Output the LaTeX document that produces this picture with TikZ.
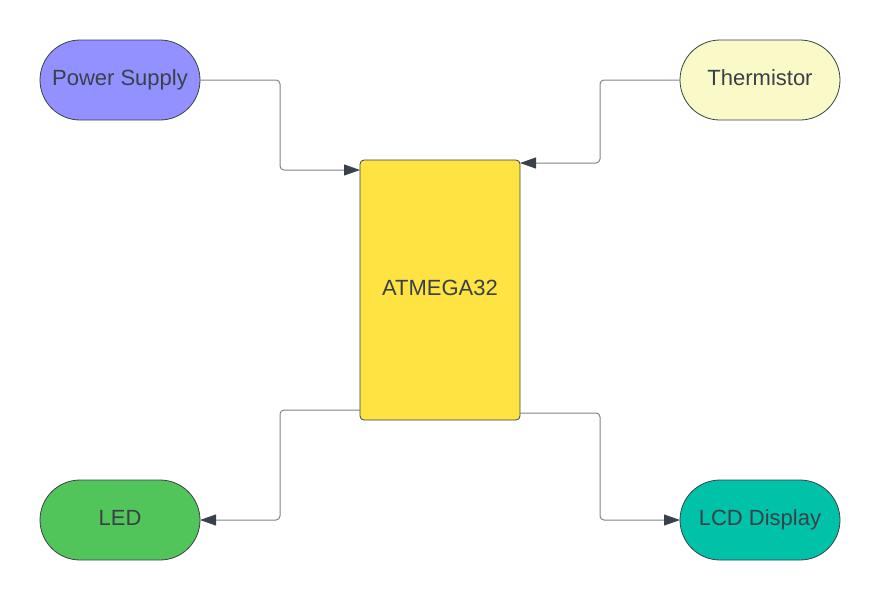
\documentclass[tikz,border=0pt]{standalone}
\usepackage{fontspec}
\setmainfont{Liberation Sans}
\usetikzlibrary{arrows.meta,positioning}
\definecolor{SupplyBlue}{HTML}{9391FF}
\definecolor{ThermYellow}{HTML}{FAFAC8}
\definecolor{LedGreen}{HTML}{52C55A}
\definecolor{LcdTeal}{HTML}{00C2A8}
\definecolor{McuYellow}{HTML}{FFE342}
\definecolor{TextGray}{HTML}{3A4048}
\definecolor{EdgeGray}{HTML}{3A414A}
\definecolor{WireGray}{HTML}{7E848C}

\begin{document}
\begin{tikzpicture}[x=1pt,y=-1pt,
        term/.style={rounded corners=40pt,draw=EdgeGray,line width=0.8pt,
                     minimum width=160pt,minimum height=80pt,inner sep=0pt,
                     outer sep=0pt,text=TextGray,text height=16pt,text depth=6pt,
                     font=\fontsize{22}{26}\selectfont},
        mcu/.style={rounded corners=4pt,draw=EdgeGray,line width=0.8pt,
                    fill=McuYellow,minimum width=160pt,minimum height=260pt,
                    inner sep=0pt,outer sep=0pt,text=TextGray,
                    text height=16pt,text depth=6pt,
                    font=\fontsize{22}{26}\selectfont},
        wire/.style={draw=WireGray,line width=1pt,rounded corners=4pt,
                     -{Triangle[length=16pt,width=11pt,color=EdgeGray]}}]

        \useasboundingbox (0,0) rectangle (880,600);

        % controller
        \node[mcu] (atmega) at (440,290) {ATMEGA32};

        % inputs and outputs
        \node[term,fill=SupplyBlue]  (supply) at (120,80)  {Power Supply};
        \node[term,fill=ThermYellow] (therm)  at (760,80)  {Thermistor};
        \node[term,fill=LedGreen]    (led)    at (120,520) {LED};
        \node[term,fill=LcdTeal]     (lcd)    at (760,520) {LCD Display};

        \draw[wire] (supply.east) -- ++(80,0) |- ([yshift=-10pt]atmega.north west);
        \draw[wire] (therm.west) -- ++(-80,0) |- ([yshift=-3pt]atmega.north east);
        \draw[wire] ([yshift=10pt]atmega.south west) -- ++(-80,0) |- (led.east);
        \draw[wire] ([yshift=7pt]atmega.south east) -- ++(80,0) |- (lcd.west);
      \end{tikzpicture}
\end{document}
